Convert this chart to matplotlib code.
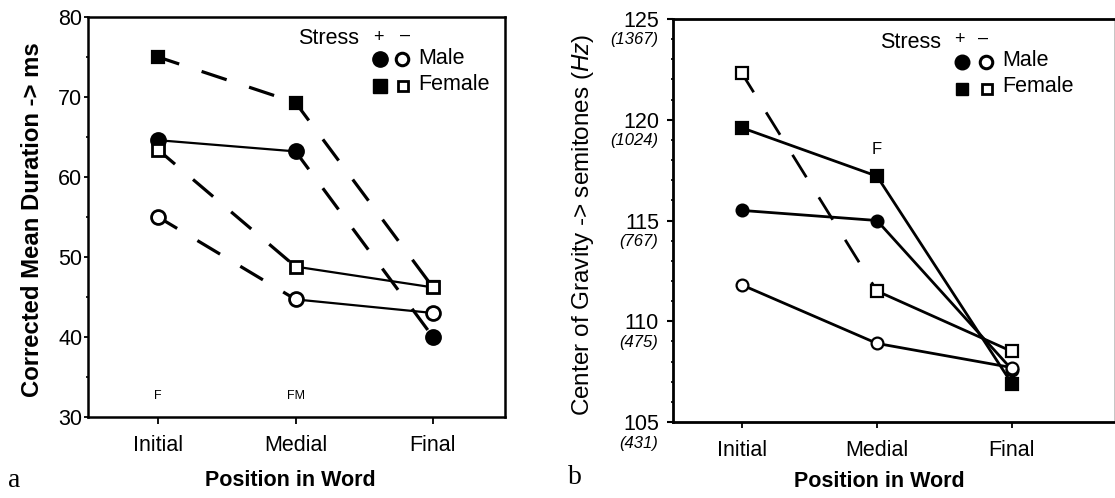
import matplotlib
matplotlib.use("Agg")
import matplotlib.pyplot as plt
from matplotlib.lines import Line2D
from matplotlib.transforms import ScaledTranslation

plt.rcParams['font.family'] = ['Liberation Sans', 'DejaVu Sans']
plt.rcParams['mathtext.fontset'] = 'custom'
plt.rcParams['mathtext.rm'] = 'Liberation Sans'
plt.rcParams['mathtext.it'] = 'Liberation Sans:italic'
plt.rcParams['lines.scale_dashes'] = False

# ---------------- data ----------------
positions = ["Initial", "Medial", "Final"]

# panel a: corrected mean duration (ms)
a_male_stressed = [64.6, 63.2, 40.0]
a_male_unstressed = [55.0, 44.7, 43.0]
a_female_stressed = [75.0, 69.3, 46.2]
a_female_unstressed = [63.4, 48.8, 46.2]
a_yticks = [30, 40, 50, 60, 70, 80]
a_sig_labels = ["F", "FM"]
a_sig_pos = [0, 1]

# panel b: centre of gravity (semitones)
b_male_stressed = [115.5, 115.0, 107.6]
b_male_unstressed = [111.8, 108.9, 107.7]
b_female_stressed = [119.6, 117.2, 106.9]
b_female_unstressed = [122.3, 111.5, 108.5]
b_yticks = [105, 110, 115, 120, 125]
b_hz_labels = ["(431)", "(475)", "(767)", "(1024)", "(1367)"]
b_sig_labels = ["F"]
b_sig_pos = [1]

W, H = 1115, 498
fig = plt.figure(figsize=(W / 100, H / 100), dpi=100)


def fx(x):
    return x / W


def fy(y):
    return 1 - y / H


DASH = (3, (19, 17))
xs = [1, 2, 3]


def draw_series(ax, vals, styles, marker, filled, ms, lw_solid, lw_dash, mew=1.6, z=3):
    for i, st in enumerate(styles):
        seg_x = xs[i:i + 2]
        seg_y = vals[i:i + 2]
        if st == 'solid':
            ax.plot(seg_x, seg_y, color='black', lw=lw_solid, solid_capstyle='butt', zorder=2)
        else:
            ax.plot(seg_x, seg_y, color='black', lw=lw_dash, linestyle=DASH,
                    dash_capstyle='butt', zorder=2)
    ax.plot(xs, vals, linestyle='none', marker=marker, ms=ms,
            markerfacecolor='black' if filled else 'white',
            markeredgecolor='black', mew=mew, zorder=z)


# ---------------- panel a ----------------
ax1 = fig.add_axes([fx(88), fy(417), fx(505 - 88), (417 - 17) / H])
ax1.set_xlim(0.49, 3.524)
ax1.set_ylim(30, 80)

draw_series(ax1, a_female_stressed, ['dashed', 'dashed'], 's', True, 8.5, 1.6, 2.3, z=3)
draw_series(ax1, a_male_stressed, ['solid', 'dashed'], 'o', True, 10.5, 1.6, 2.3, z=3)
draw_series(ax1, a_female_unstressed, ['dashed', 'solid'], 's', False, 8.5, 1.6, 2.3, mew=2.0, z=4)
draw_series(ax1, a_male_unstressed, ['dashed', 'solid'], 'o', False, 10, 1.6, 2.3, mew=2.0, z=4)

ax1.set_xticks(xs)
ax1.set_xticklabels(positions, fontsize=15.5)
ax1.set_yticks(a_yticks)
ax1.set_yticklabels([str(v) for v in a_yticks], fontsize=15.5)
ax1.set_yticks([35, 45, 55, 65, 75], minor=True)
ax1.tick_params(axis='y', which='major', direction='out', length=3, width=1.3, pad=1)
ax1.tick_params(axis='y', which='minor', direction='out', length=1.5, width=1.2)
ax1.tick_params(axis='x', which='major', direction='out', length=5, width=1.3, pad=8)
for s in ax1.spines.values():
    s.set_linewidth(1.8)

for lab, p in zip(a_sig_labels, a_sig_pos):
    ax1.text(xs[p], 32.6, lab, fontsize=9, ha='center', va='center')

fig.text(fx(33), fy(220), "Corrected Mean Duration -> ms", rotation=90, fontsize=17.2,
         fontweight='bold', ha='center', va='center')
fig.text(fx(290), fy(480), "Position in Word", fontsize=15.5, fontweight='bold',
         ha='center', va='center')
fig.text(fx(14), fy(480), "a", fontsize=20, family='Liberation Serif', ha='center', va='center')

# legend a
fig.text(fx(298), fy(39), "Stress", fontsize=15.5, ha='left', va='center')
fig.text(fx(378), fy(37), "+", fontsize=13, ha='center', va='center')
fig.text(fx(405), fy(35), "\u2013", fontsize=13, ha='center', va='center')
fig.add_artist(Line2D([fx(380)], [fy(59)], marker='o', ms=11, color='black',
                      transform=fig.transFigure))
fig.add_artist(Line2D([fx(402)], [fy(59)], marker='o', ms=9, markerfacecolor='white',
                      markeredgecolor='black', mew=2.2, transform=fig.transFigure))
fig.text(fx(418), fy(58), "Male", fontsize=15.5, ha='left', va='center')
fig.add_artist(Line2D([fx(380)], [fy(86)], marker='s', ms=10, color='black',
                      transform=fig.transFigure))
fig.add_artist(Line2D([fx(403)], [fy(86)], marker='s', ms=7.5, markerfacecolor='white',
                      markeredgecolor='black', mew=2.0, transform=fig.transFigure))
fig.text(fx(418), fy(85), "Female", fontsize=15.5, ha='left', va='center')

# ---------------- panel b ----------------
ax2 = fig.add_axes([fx(673), fy(422), fx(1114 - 673), (422 - 19) / H])
ax2.set_xlim(0.489, 3.756)
ax2.set_ylim(105, 125)

draw_series(ax2, b_female_unstressed, ['dashed', 'solid'], 's', False, 8.5, 2.0, 2.0, mew=1.6, z=4)
draw_series(ax2, b_male_unstressed, ['solid', 'solid'], 'o', False, 8.5, 2.0, 2.0, mew=1.6, z=4)
draw_series(ax2, b_male_stressed, ['solid', 'solid'], 'o', True, 8.5, 2.0, 2.0, z=3)
draw_series(ax2, b_female_stressed, ['solid', 'solid'], 's', True, 8.5, 2.0, 2.0, z=5)

ax2.set_xticks(xs)
ax2.set_xticklabels(positions, fontsize=15.5)
ax2.set_yticks(b_yticks)
ax2.set_yticklabels([str(v) for v in b_yticks], fontsize=15.5)
ax2.set_yticks([v for v in range(106, 125) if v % 5 != 0], minor=True)
ax2.tick_params(axis='y', which='major', direction='out', length=4, width=1.5, pad=6)
ax2.tick_params(axis='y', which='minor', direction='out', length=1.5, width=1.2)
ax2.tick_params(axis='x', which='major', direction='out', length=4, width=1.3, pad=9)
for name, s in ax2.spines.items():
    s.set_linewidth(2.0)
ax2.spines['right'].set_linewidth(0.6)
ax2.spines['right'].set_color('#bbbbbb')

off = ScaledTranslation(-15 / 100, -21 / 100, fig.dpi_scale_trans)
for v, lab in zip(b_yticks, b_hz_labels):
    ax2.text(0, v, lab, fontsize=12, style='italic', ha='right', va='center',
             transform=ax2.get_yaxis_transform() + off, clip_on=False)

for lab, p in zip(b_sig_labels, b_sig_pos):
    ax2.text(xs[p], 118.5, lab, fontsize=12, ha='center', va='center')

fig.text(fx(583), fy(225), r"Center of Gravity -> semitones $\mathit{(Hz)}$", rotation=90,
         fontsize=17.5, ha='center', va='center')
fig.text(fx(879), fy(481), "Position in Word", fontsize=15.5, fontweight='bold',
         ha='center', va='center')
fig.text(fx(575), fy(478), "b", fontsize=20, family='Liberation Serif', ha='center', va='center')

# legend b
fig.text(fx(880), fy(42), "Stress", fontsize=15.5, ha='left', va='center')
fig.text(fx(959), fy(40), "+", fontsize=13, ha='center', va='center')
fig.text(fx(983), fy(38), "\u2013", fontsize=13, ha='center', va='center')
fig.add_artist(Line2D([fx(962)], [fy(62)], marker='o', ms=10.5, color='black',
                      transform=fig.transFigure))
fig.add_artist(Line2D([fx(986)], [fy(62)], marker='o', ms=9, markerfacecolor='white',
                      markeredgecolor='black', mew=2.2, transform=fig.transFigure))
fig.text(fx(1002), fy(61), "Male", fontsize=15.5, ha='left', va='center')
fig.add_artist(Line2D([fx(962)], [fy(89)], marker='s', ms=9, color='black',
                      transform=fig.transFigure))
fig.add_artist(Line2D([fx(987)], [fy(89)], marker='s', ms=7.5, markerfacecolor='white',
                      markeredgecolor='black', mew=2.0, transform=fig.transFigure))
fig.text(fx(1002), fy(87), "Female", fontsize=15.5, ha='left', va='center')

fig.savefig("out.png", dpi=100)
